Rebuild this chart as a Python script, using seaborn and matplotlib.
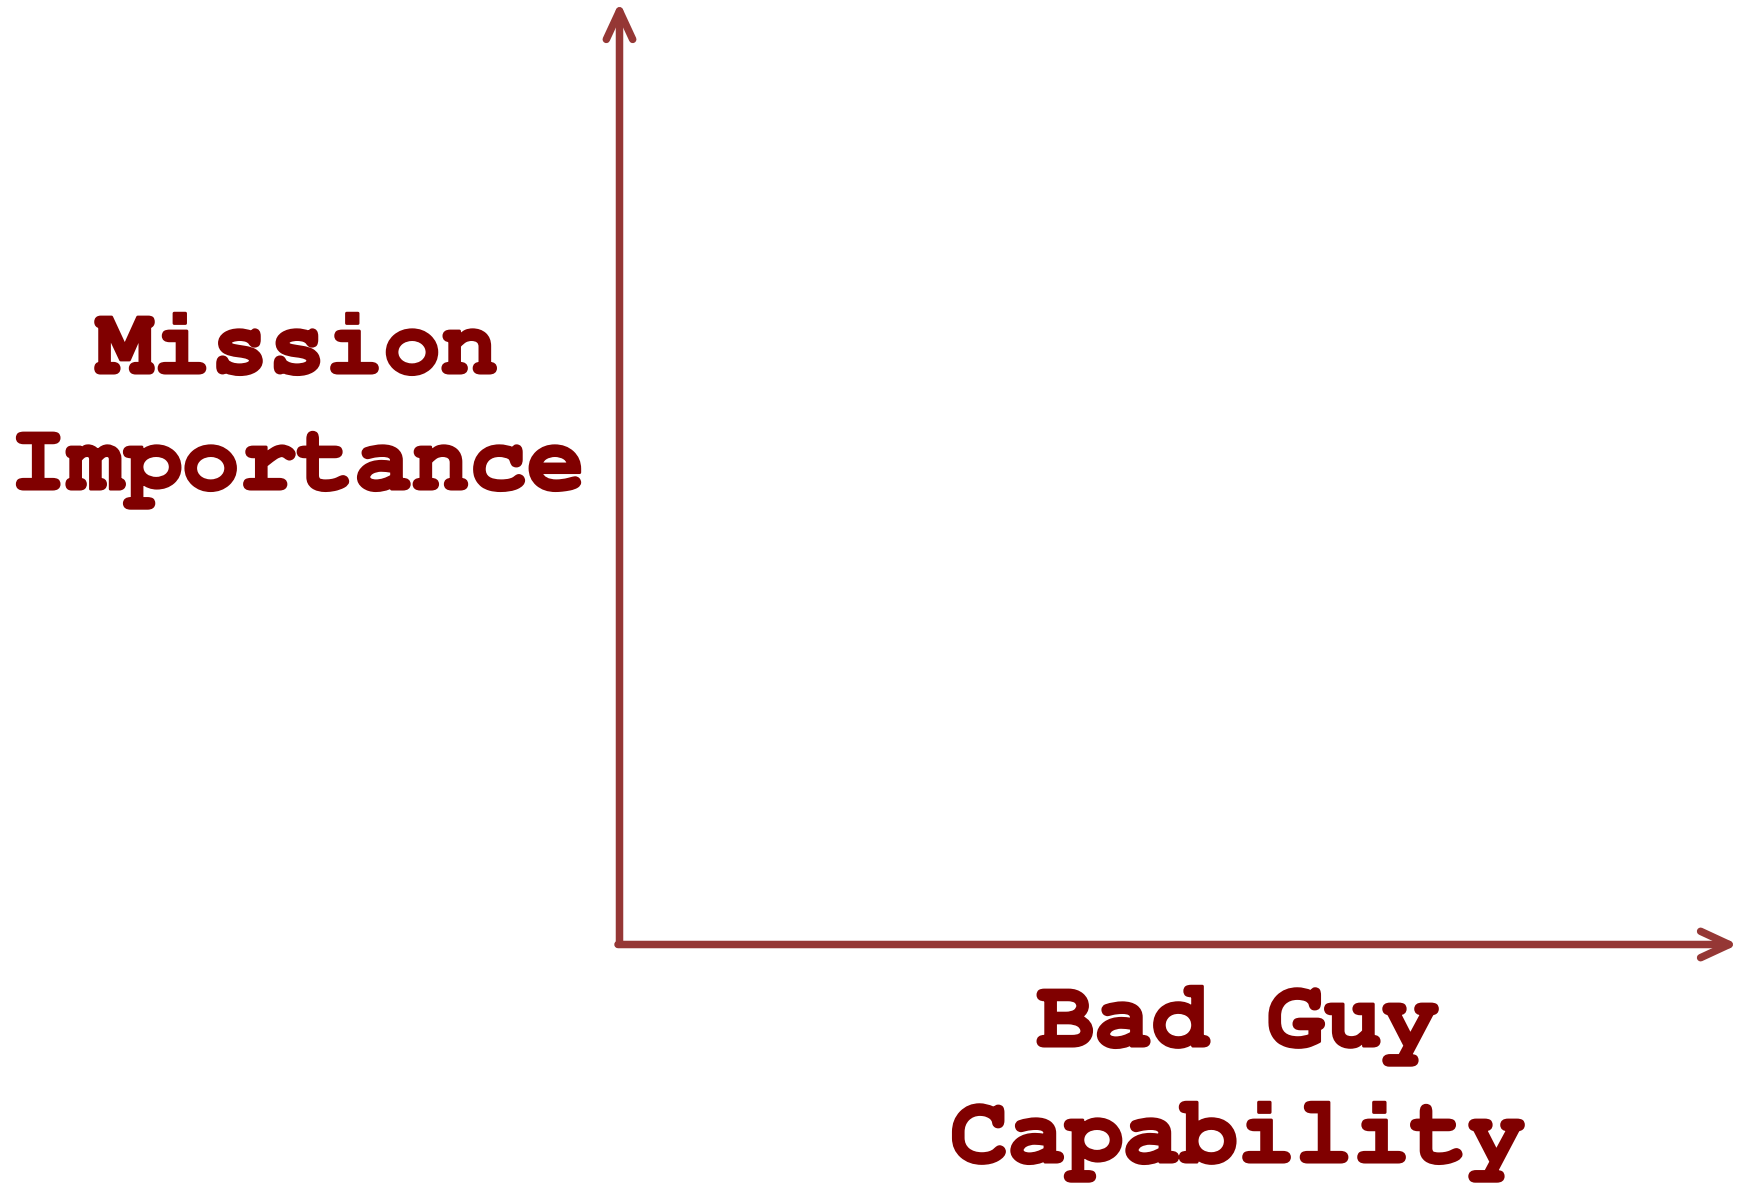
import matplotlib
matplotlib.use("Agg")
import matplotlib.pyplot as plt
from matplotlib import font_manager
import matplotlib.patheffects as pe
import seaborn as sns

# axis labels, one entry per line
y_label_lines = ["Mission", "Importance"]
x_label_lines = ["Bad Guy", "Capability"]

text_color = "#800000"
arrow_color = "#953735"

sns.set_style("white")

# pick a Courier-like bold mono if one is installed
installed = {f.name for f in font_manager.fontManager.ttflist}
mono = "Liberation Mono"
for name in ["Courier New", "Nimbus Mono PS", "FreeMono", "Courier", "Liberation Mono"]:
    if name in installed:
        mono = name
        break

W, H = 1743, 1186
fig = plt.figure(figsize=(W / 100, H / 100), dpi=100)
ax = fig.add_axes([0, 0, 1, 1])
ax.set_xlim(0, W)
ax.set_ylim(H, 0)
ax.axis("off")

# axis arrows (pixel coordinates of the frame)
origin = (619.5, 944.5)
arrow_props = dict(arrowstyle="->,head_length=2.05,head_width=0.95",
                   lw=5.4, color=arrow_color, shrinkA=0, shrinkB=0,
                   capstyle="round", joinstyle="round")
ax.annotate("", xy=(origin[0], 2), xytext=(origin[0], origin[1] - 1),
            arrowprops=arrow_props)
ax.annotate("", xy=(1738, origin[1]), xytext=(origin[0] - 1.5, origin[1]),
            arrowprops=arrow_props)

# labels
thick = [pe.withStroke(linewidth=2.2, foreground=text_color)]
for i, line in enumerate(y_label_lines):
    ax.text(297, 373 + i * 116, line, ha="center", va="baseline",
            fontsize=69, fontweight="bold", family=mono, color=text_color,
            path_effects=thick)
for i, line in enumerate(x_label_lines):
    ax.text(1238, 1046 + i * 116, line, ha="center", va="baseline",
            fontsize=69, fontweight="bold", family=mono, color=text_color,
            path_effects=thick)

fig.savefig("out.png", dpi=100)
